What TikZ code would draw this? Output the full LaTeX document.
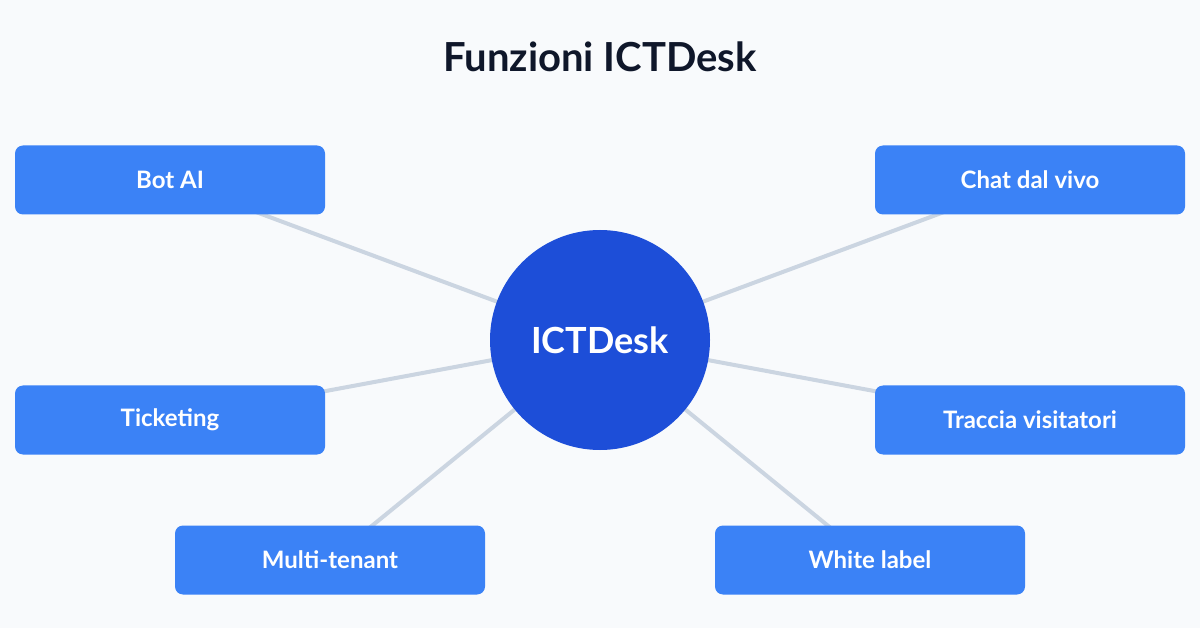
\documentclass[tikz,border=0pt]{standalone}
\usepackage{fontspec}
\setmainfont{Lato}
\definecolor{bg}{HTML}{F8FAFC}
\definecolor{boxc}{HTML}{3B82F6}
\definecolor{hub}{HTML}{1D4ED8}
\definecolor{edge}{HTML}{CBD5E1}
\definecolor{titlec}{HTML}{0F172A}
\begin{document}
\begin{tikzpicture}[x=1pt,y=-1pt,
  feat/.style={fill=boxc,rounded corners=8pt,minimum width=310pt,minimum height=69pt,text=white,font=\fontsize{24}{28}\selectfont\bfseries,inner sep=0pt},
  link/.style={draw=edge,line width=4pt}]
\fill[bg] (0,0) rectangle (1200,628);
\useasboundingbox (0,0) rectangle (1200,628);
\node[font=\fontsize{40}{46}\selectfont\bfseries,text=titlec] (title) at (600,57) {Funzioni ICTDesk};
\coordinate (c) at (600,340);
\coordinate (pa) at (170,180);
\coordinate (pb) at (1030,180);
\coordinate (pc) at (170,420);
\coordinate (pd) at (1030,420);
\coordinate (pe) at (330,560);
\coordinate (pf) at (870,560);
\foreach \p in {pa,pb,pc,pd,pe,pf} \draw[link] (c) -- (\p);
\node[circle,fill=hub,minimum size=220pt,inner sep=0pt,text=white,font=\fontsize{36}{42}\selectfont\bfseries] (hub) at (c) {ICTDesk};
\node[feat] (a) at (pa) {Bot AI};
\node[feat] (b) at (pb) {Chat dal vivo};
\node[feat] (t) at (pc) {Ticketing};
\node[feat] (d) at (pd) {Traccia visitatori};
\node[feat] (e) at (pe) {Multi-tenant};
\node[feat] (f) at (pf) {White label};
\end{tikzpicture}
\end{document}
